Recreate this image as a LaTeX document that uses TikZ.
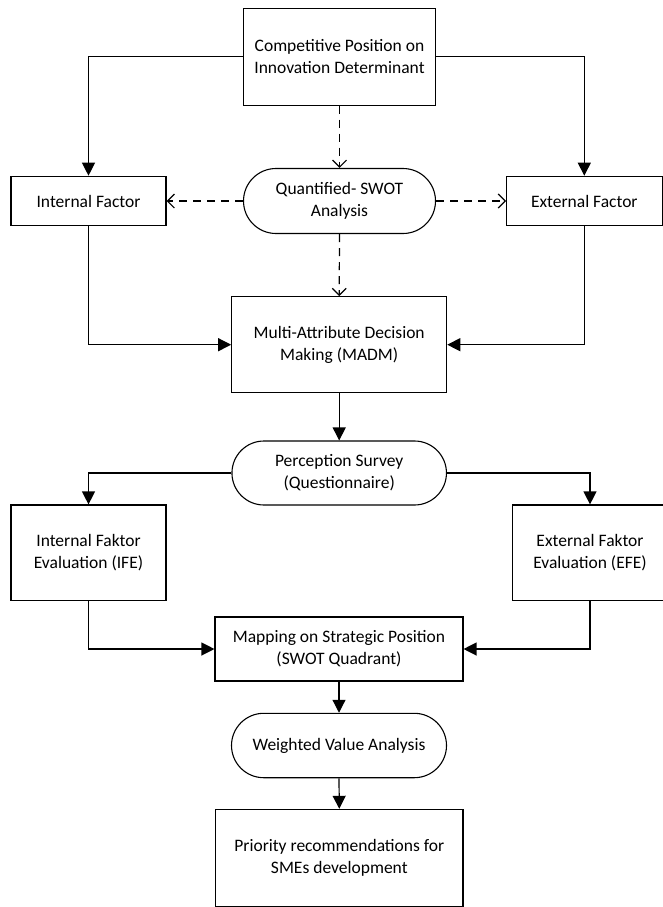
\documentclass[tikz,border=0pt]{standalone}
\usepackage{fontspec}
\setmainfont{Carlito}
\usetikzlibrary{arrows.meta,shapes.misc}
\begin{document}
\begin{tikzpicture}[x=1pt,y=-1pt,
  every node/.style={font=\fontsize{17.5}{22}\selectfont, align=center, inner sep=0pt},
  boxnode/.style={draw, line width=1.1pt, rectangle},
  pill/.style={draw, line width=1.1pt, rounded rectangle},
  solidarrow/.style={line width=1.2pt, -{Triangle[length=13pt,width=13pt]}},
  dasharrow/.style={line width=1.2pt, dash pattern=on 8pt off 6pt, -{Straight Barb[length=7pt,width=14pt]}},
  plainline/.style={line width=1.2pt}
]
\useasboundingbox (0,0) rectangle (663,907);
\clip (0,0) rectangle (663,907);
\node[boxnode, minimum width=192pt, minimum height=96.7pt] (top) at (339.5,56.7) {Competitive Position on\\Innovation Determinant};
\node[boxnode, minimum width=155pt, minimum height=49.5pt] (intf) at (88.5,201) {Internal Factor};
\node[boxnode, minimum width=155.5pt, minimum height=49.5pt] (extf) at (584.3,201) {External Factor};
\node[pill, minimum width=192pt, minimum height=65pt] (swot) at (339.5,201) {Quantified- SWOT\\Analysis};
\node[boxnode, minimum width=215pt, minimum height=96pt] (madm) at (339.2,344.7) {Multi-Attribute Decision\\Making (MADM)};
\node[pill, minimum width=214.5pt, minimum height=64pt] (perc) at (339.2,473) {Perception Survey\\(Questionnaire)};
\node[boxnode, minimum width=155pt, minimum height=95.7pt] (ife) at (88.5,552.8) {Internal Faktor\\Evaluation (IFE)};
\node[boxnode, minimum width=155pt, minimum height=95.7pt] (efe) at (590,552.8) {External Faktor\\Evaluation (EFE)};
\node[boxnode, minimum width=248pt, minimum height=64pt] (map) at (339,649) {Mapping on Strategic Position\\(SWOT Quadrant)};
\node[pill, minimum width=215pt, minimum height=64.4pt] (wva) at (339,745.5) {Weighted Value Analysis};
\node[boxnode, minimum width=247.4pt, minimum height=96.7pt] (prio) at (339.3,857.7) {Priority recommendations for\\SMEs development};

\draw[solidarrow] (top.west) -| (intf.north);
\draw[solidarrow] (top.east) -| (extf.north);
\draw[dasharrow] (top.south) -- (swot.north);
\draw[dasharrow] (swot.west) -- (intf.east);
\draw[dasharrow] (swot.east) -- (extf.west);
\draw[dasharrow] (swot.south) -- (madm.north);
\draw[solidarrow] (intf.south) |- (madm.west);
\draw[solidarrow] (extf.south) |- (madm.east);
\draw[solidarrow] (madm.south) -- (perc.north);
\draw[solidarrow] (perc.west) -| (ife.north);
\draw[solidarrow] (perc.east) -| (efe.north);
\draw[solidarrow] (ife.south) |- (map.west);
\draw[solidarrow] (efe.south) |- (map.east);
\draw[solidarrow] (map.south) -- (wva.north);
\draw[solidarrow] (wva.south) -- (prio.north);
\end{tikzpicture}
\end{document}
